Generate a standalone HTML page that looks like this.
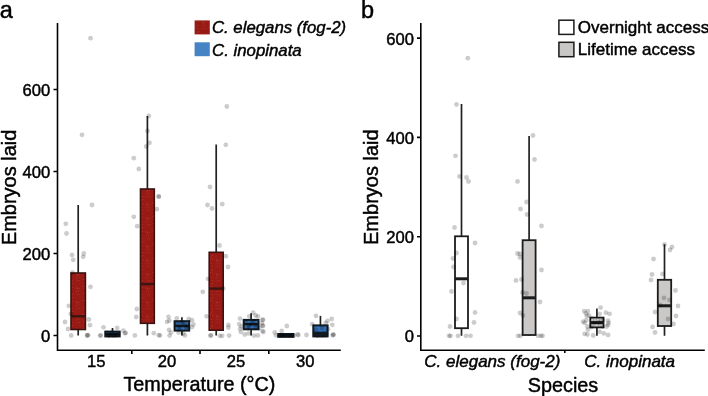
<!DOCTYPE html>
<html lang="en"><head><meta charset="utf-8"><title>Embryos laid</title>
<style>html,body{margin:0;padding:0;background:#fff;}body{width:708px;height:396px;overflow:hidden;}svg{display:block;}text{font-family:"Liberation Sans", Arial, Helvetica, sans-serif;fill:#000;stroke:#000;stroke-width:0.45px;stroke-linejoin:round;}.pl{font-size:23.5px;}.tk{font-size:16.6px;}.ti{font-size:19.8px;}.lg{font-size:16.8px;}.lgb{font-size:17px;}.it{font-style:italic;}.ax{stroke:#000;stroke-width:1.6;fill:none;}.wh{stroke:#222;stroke-width:1.7;fill:none;}.pt{fill:#000;fill-opacity:0.2;}</style></head><body>
<svg width="708" height="396" viewBox="0 0 708 396">
<defs><pattern id="rt" width="14" height="14" patternUnits="userSpaceOnUse"><rect width="14" height="14" fill="#981a14"/><circle cx="6.3" cy="7.8" r="0.4" fill="#d9946a" fill-opacity="0.55"/><circle cx="12.9" cy="6.5" r="0.4" fill="#d9946a" fill-opacity="0.55"/><circle cx="7.1" cy="8.2" r="0.4" fill="#d9946a" fill-opacity="0.55"/><circle cx="2.6" cy="7.2" r="0.4" fill="#d9946a" fill-opacity="0.55"/><circle cx="8.8" cy="11.1" r="0.4" fill="#d9946a" fill-opacity="0.55"/><circle cx="1.3" cy="4.2" r="0.4" fill="#d9946a" fill-opacity="0.55"/><circle cx="1.3" cy="11.3" r="0.4" fill="#d9946a" fill-opacity="0.55"/><circle cx="9.7" cy="0.6" r="0.4" fill="#d9946a" fill-opacity="0.55"/><circle cx="13.8" cy="13.5" r="0.4" fill="#d9946a" fill-opacity="0.55"/><circle cx="9.2" cy="8.6" r="0.4" fill="#d9946a" fill-opacity="0.55"/><circle cx="2.2" cy="0.2" r="0.4" fill="#d9946a" fill-opacity="0.55"/><circle cx="7.4" cy="0.8" r="0.4" fill="#d9946a" fill-opacity="0.55"/><circle cx="2.7" cy="3.4" r="0.4" fill="#d9946a" fill-opacity="0.55"/><circle cx="0.4" cy="6.5" r="0.4" fill="#d9946a" fill-opacity="0.55"/><circle cx="6.2" cy="11.8" r="0.4" fill="#d9946a" fill-opacity="0.55"/><circle cx="7.3" cy="9.0" r="0.4" fill="#d9946a" fill-opacity="0.55"/></pattern></defs>
<rect width="708" height="396" fill="#fff"/>
<text class="pl" x="-0.2" y="18.1">a</text>
<text class="ti" transform="translate(15.8,187.4) rotate(-90)" text-anchor="middle" style="font-size:20px">Embryos laid</text>
<text class="ti" x="199.4" y="391.3" text-anchor="middle">Temperature (°C)</text>
<text class="tk" x="50.3" y="342.2" text-anchor="end">0</text>
<text class="tk" x="50.3" y="260.2" text-anchor="end">200</text>
<text class="tk" x="50.3" y="178.2" text-anchor="end">400</text>
<text class="tk" x="50.3" y="96.2" text-anchor="end">600</text>
<text class="tk" x="96.3" y="367" text-anchor="middle">15</text>
<text class="tk" x="167.0" y="367" text-anchor="middle">20</text>
<text class="tk" x="236.0" y="367" text-anchor="middle">25</text>
<text class="tk" x="305.3" y="367" text-anchor="middle">30</text>
<path class="wh" d="M78.20 205.0V273.0M78.20 329.5V335.5"/>
<rect x="71.0" y="273.0" width="14.4" height="56.5" fill="url(#rt)" stroke="#3a1210" stroke-width="1.6"/>
<path d="M71.0 316.3H85.4" stroke="#3a1512" stroke-width="2.4"/>
<path class="wh" d="M112.50 328.0V331.6M112.50 336.4V336.4"/>
<rect x="105.3" y="331.6" width="14.4" height="4.8" fill="#3674b8" stroke="#121a22" stroke-width="2"/>
<path d="M105.3 334.3H119.7" stroke="#121a22" stroke-width="2.4"/>
<path class="wh" d="M147.40 116.0V189.0M147.40 323.3V335.5"/>
<rect x="140.5" y="189.0" width="13.8" height="134.3" fill="url(#rt)" stroke="#3a1210" stroke-width="1.6"/>
<path d="M140.5 284.1H154.3" stroke="#3a1512" stroke-width="2.4"/>
<path class="wh" d="M181.90 317.3V321.2M181.90 330.6V335.5"/>
<rect x="174.6" y="321.2" width="14.6" height="9.4" fill="#3674b8" stroke="#121a22" stroke-width="2"/>
<path d="M174.6 326.0H189.2" stroke="#121a22" stroke-width="2.4"/>
<path class="wh" d="M216.20 144.5V252.3M216.20 330.2V335.5"/>
<rect x="209.2" y="252.3" width="14.0" height="77.9" fill="url(#rt)" stroke="#3a1210" stroke-width="1.6"/>
<path d="M209.2 288.6H223.2" stroke="#3a1512" stroke-width="2.4"/>
<path class="wh" d="M251.10 313.2V319.9M251.10 329.3V335.5"/>
<rect x="243.7" y="319.9" width="14.8" height="9.4" fill="#3674b8" stroke="#121a22" stroke-width="2"/>
<path d="M243.7 324.2H258.5" stroke="#121a22" stroke-width="2.4"/>
<path class="wh" d="M285.85 334.0V334.0M285.85 336.8V336.8"/>
<rect x="278.3" y="334.0" width="15.1" height="2.8" fill="#111" stroke="#121a22" stroke-width="2"/>
<path d="M278.3 335.4H293.4" stroke="#121a22" stroke-width="2.4"/>
<path class="wh" d="M320.45 315.9V325.4M320.45 336.4V336.4"/>
<rect x="313.3" y="325.4" width="14.3" height="11.0" fill="#3674b8" stroke="#121a22" stroke-width="2"/>
<path d="M313.3 333.0H327.6" stroke="#121a22" stroke-width="2.4"/>
<circle class="pt" cx="90.5" cy="38.2" r="2.4"/>
<circle class="pt" cx="82.0" cy="134.8" r="2.4"/>
<circle class="pt" cx="148.8" cy="116.0" r="2.4"/>
<circle class="pt" cx="147.5" cy="131.0" r="2.4"/>
<circle class="pt" cx="149.5" cy="142.8" r="2.4"/>
<circle class="pt" cx="146.2" cy="146.5" r="2.4"/>
<circle class="pt" cx="133.8" cy="158.2" r="2.4"/>
<circle class="pt" cx="138.8" cy="169.0" r="2.4"/>
<circle class="pt" cx="158.6" cy="196.4" r="2.4"/>
<circle class="pt" cx="226.8" cy="106.5" r="2.4"/>
<circle class="pt" cx="225.8" cy="144.8" r="2.4"/>
<circle class="pt" cx="210.0" cy="187.0" r="2.4"/>
<circle class="pt" cx="92.0" cy="205.0" r="2.4"/>
<circle class="pt" cx="65.8" cy="223.8" r="2.4"/>
<circle class="pt" cx="66.5" cy="233.5" r="2.4"/>
<circle class="pt" cx="72.0" cy="255.0" r="2.4"/>
<circle class="pt" cx="73.2" cy="259.8" r="2.4"/>
<circle class="pt" cx="83.8" cy="253.5" r="2.4"/>
<circle class="pt" cx="83.2" cy="256.8" r="2.4"/>
<circle class="pt" cx="72.5" cy="272.5" r="2.4"/>
<circle class="pt" cx="90.5" cy="286.8" r="2.4"/>
<circle class="pt" cx="133.8" cy="216.8" r="2.4"/>
<circle class="pt" cx="137.2" cy="226.2" r="2.4"/>
<circle class="pt" cx="156.8" cy="209.2" r="2.4"/>
<circle class="pt" cx="158.9" cy="196.7" r="2.4"/>
<circle class="pt" cx="207.5" cy="205.0" r="2.4"/>
<circle class="pt" cx="212.0" cy="208.5" r="2.4"/>
<circle class="pt" cx="222.2" cy="204.2" r="2.4"/>
<circle class="pt" cx="219.5" cy="245.5" r="2.4"/>
<circle class="pt" cx="225.8" cy="256.2" r="2.4"/>
<circle class="pt" cx="228.0" cy="267.0" r="2.4"/>
<circle class="pt" cx="208.0" cy="278.8" r="2.4"/>
<circle class="pt" cx="202.8" cy="291.8" r="2.4"/>
<circle class="pt" cx="223.2" cy="288.5" r="2.4"/>
<circle class="pt" cx="68.8" cy="305.8" r="2.4"/>
<circle class="pt" cx="70.8" cy="314.0" r="2.4"/>
<circle class="pt" cx="65.0" cy="322.0" r="2.4"/>
<circle class="pt" cx="68.0" cy="329.0" r="2.4"/>
<circle class="pt" cx="71.2" cy="335.5" r="2.4"/>
<circle class="pt" cx="87.5" cy="335.3" r="2.4"/>
<circle class="pt" cx="87.0" cy="335.5" r="2.4"/>
<circle class="pt" cx="88.0" cy="335.2" r="2.4"/>
<circle class="pt" cx="88.8" cy="319.5" r="2.4"/>
<circle class="pt" cx="90.0" cy="325.2" r="2.4"/>
<circle class="pt" cx="136.8" cy="309.0" r="2.4"/>
<circle class="pt" cx="136.2" cy="317.0" r="2.4"/>
<circle class="pt" cx="153.8" cy="333.2" r="2.4"/>
<circle class="pt" cx="158.8" cy="335.2" r="2.4"/>
<circle class="pt" cx="103.5" cy="327.3" r="2.4"/>
<circle class="pt" cx="100.7" cy="335.4" r="2.4"/>
<circle class="pt" cx="100.2" cy="335.6" r="2.4"/>
<circle class="pt" cx="117.2" cy="327.9" r="2.4"/>
<circle class="pt" cx="123.4" cy="330.7" r="2.4"/>
<circle class="pt" cx="125.6" cy="332.9" r="2.4"/>
<circle class="pt" cx="125.0" cy="333.3" r="2.4"/>
<circle class="pt" cx="134.9" cy="335.4" r="2.4"/>
<circle class="pt" cx="107.0" cy="333.0" r="2.4"/>
<circle class="pt" cx="109.0" cy="335.0" r="2.4"/>
<circle class="pt" cx="111.0" cy="334.0" r="2.4"/>
<circle class="pt" cx="113.0" cy="335.5" r="2.4"/>
<circle class="pt" cx="115.0" cy="333.5" r="2.4"/>
<circle class="pt" cx="117.0" cy="335.0" r="2.4"/>
<circle class="pt" cx="118.5" cy="334.0" r="2.4"/>
<circle class="pt" cx="110.0" cy="335.6" r="2.4"/>
<circle class="pt" cx="114.0" cy="335.6" r="2.4"/>
<circle class="pt" cx="116.0" cy="335.2" r="2.4"/>
<circle class="pt" cx="108.0" cy="335.6" r="2.4"/>
<circle class="pt" cx="112.0" cy="332.5" r="2.4"/>
<circle class="pt" cx="168.5" cy="316.8" r="2.4"/>
<circle class="pt" cx="169.3" cy="320.7" r="2.4"/>
<circle class="pt" cx="167.0" cy="321.8" r="2.4"/>
<circle class="pt" cx="169.0" cy="329.8" r="2.4"/>
<circle class="pt" cx="170.9" cy="332.6" r="2.4"/>
<circle class="pt" cx="169.6" cy="335.6" r="2.4"/>
<circle class="pt" cx="160.0" cy="335.4" r="2.4"/>
<circle class="pt" cx="176.8" cy="318.3" r="2.4"/>
<circle class="pt" cx="188.7" cy="319.0" r="2.4"/>
<circle class="pt" cx="191.9" cy="320.2" r="2.4"/>
<circle class="pt" cx="193.4" cy="324.5" r="2.4"/>
<circle class="pt" cx="191.9" cy="327.2" r="2.4"/>
<circle class="pt" cx="178.6" cy="332.6" r="2.4"/>
<circle class="pt" cx="184.9" cy="335.4" r="2.4"/>
<circle class="pt" cx="183.3" cy="333.4" r="2.4"/>
<circle class="pt" cx="177.0" cy="324.0" r="2.4"/>
<circle class="pt" cx="180.0" cy="327.0" r="2.4"/>
<circle class="pt" cx="183.0" cy="323.0" r="2.4"/>
<circle class="pt" cx="186.0" cy="328.0" r="2.4"/>
<circle class="pt" cx="179.0" cy="329.0" r="2.4"/>
<circle class="pt" cx="185.0" cy="325.0" r="2.4"/>
<circle class="pt" cx="181.5" cy="322.5" r="2.4"/>
<circle class="pt" cx="187.5" cy="326.5" r="2.4"/>
<circle class="pt" cx="206.6" cy="316.3" r="2.4"/>
<circle class="pt" cx="228.4" cy="324.9" r="2.4"/>
<circle class="pt" cx="228.4" cy="327.7" r="2.4"/>
<circle class="pt" cx="210.5" cy="335.6" r="2.4"/>
<circle class="pt" cx="210.9" cy="335.4" r="2.4"/>
<circle class="pt" cx="219.8" cy="335.8" r="2.4"/>
<circle class="pt" cx="222.2" cy="335.8" r="2.4"/>
<circle class="pt" cx="229.1" cy="335.6" r="2.4"/>
<circle class="pt" cx="253.2" cy="312.7" r="2.4"/>
<circle class="pt" cx="255.6" cy="315.5" r="2.4"/>
<circle class="pt" cx="257.9" cy="316.3" r="2.4"/>
<circle class="pt" cx="249.3" cy="316.3" r="2.4"/>
<circle class="pt" cx="262.5" cy="319.9" r="2.4"/>
<circle class="pt" cx="261.8" cy="323.3" r="2.4"/>
<circle class="pt" cx="262.5" cy="325.6" r="2.4"/>
<circle class="pt" cx="259.4" cy="328.0" r="2.4"/>
<circle class="pt" cx="262.5" cy="331.1" r="2.4"/>
<circle class="pt" cx="240.0" cy="318.6" r="2.4"/>
<circle class="pt" cx="239.2" cy="324.1" r="2.4"/>
<circle class="pt" cx="241.6" cy="326.4" r="2.4"/>
<circle class="pt" cx="240.0" cy="328.7" r="2.4"/>
<circle class="pt" cx="240.8" cy="331.9" r="2.4"/>
<circle class="pt" cx="244.7" cy="334.5" r="2.4"/>
<circle class="pt" cx="248.6" cy="333.4" r="2.4"/>
<circle class="pt" cx="254.0" cy="335.6" r="2.4"/>
<circle class="pt" cx="257.9" cy="335.4" r="2.4"/>
<circle class="pt" cx="246.0" cy="322.0" r="2.4"/>
<circle class="pt" cx="249.0" cy="326.0" r="2.4"/>
<circle class="pt" cx="252.0" cy="323.0" r="2.4"/>
<circle class="pt" cx="255.0" cy="327.0" r="2.4"/>
<circle class="pt" cx="248.0" cy="328.0" r="2.4"/>
<circle class="pt" cx="254.0" cy="321.5" r="2.4"/>
<circle class="pt" cx="256.5" cy="325.0" r="2.4"/>
<circle class="pt" cx="250.5" cy="324.5" r="2.4"/>
<circle class="pt" cx="263.0" cy="319.7" r="2.4"/>
<circle class="pt" cx="263.0" cy="326.0" r="2.4"/>
<circle class="pt" cx="263.4" cy="332.0" r="2.4"/>
<circle class="pt" cx="286.8" cy="326.0" r="2.4"/>
<circle class="pt" cx="281.7" cy="331.0" r="2.4"/>
<circle class="pt" cx="274.7" cy="332.4" r="2.4"/>
<circle class="pt" cx="297.6" cy="334.5" r="2.4"/>
<circle class="pt" cx="298.4" cy="335.0" r="2.4"/>
<circle class="pt" cx="306.5" cy="335.0" r="2.4"/>
<circle class="pt" cx="276.0" cy="335.3" r="2.4"/>
<circle class="pt" cx="279.0" cy="335.6" r="2.4"/>
<circle class="pt" cx="282.0" cy="335.4" r="2.4"/>
<circle class="pt" cx="285.0" cy="335.6" r="2.4"/>
<circle class="pt" cx="288.0" cy="335.5" r="2.4"/>
<circle class="pt" cx="291.0" cy="335.6" r="2.4"/>
<circle class="pt" cx="294.0" cy="335.4" r="2.4"/>
<circle class="pt" cx="283.5" cy="335.6" r="2.4"/>
<circle class="pt" cx="289.5" cy="335.6" r="2.4"/>
<circle class="pt" cx="280.5" cy="335.5" r="2.4"/>
<circle class="pt" cx="292.5" cy="335.5" r="2.4"/>
<circle class="pt" cx="316.0" cy="315.9" r="2.4"/>
<circle class="pt" cx="312.2" cy="324.2" r="2.4"/>
<circle class="pt" cx="331.7" cy="319.0" r="2.4"/>
<circle class="pt" cx="327.5" cy="321.0" r="2.4"/>
<circle class="pt" cx="325.6" cy="322.9" r="2.4"/>
<circle class="pt" cx="332.3" cy="324.8" r="2.4"/>
<circle class="pt" cx="328.0" cy="329.2" r="2.4"/>
<circle class="pt" cx="333.2" cy="334.3" r="2.4"/>
<circle class="pt" cx="333.6" cy="334.8" r="2.4"/>
<circle class="pt" cx="332.6" cy="335.4" r="2.4"/>
<circle class="pt" cx="315.0" cy="334.0" r="2.4"/>
<circle class="pt" cx="317.0" cy="335.5" r="2.4"/>
<circle class="pt" cx="319.0" cy="333.5" r="2.4"/>
<circle class="pt" cx="321.0" cy="335.0" r="2.4"/>
<circle class="pt" cx="323.0" cy="334.5" r="2.4"/>
<circle class="pt" cx="325.0" cy="335.5" r="2.4"/>
<circle class="pt" cx="326.5" cy="334.0" r="2.4"/>
<circle class="pt" cx="318.0" cy="335.6" r="2.4"/>
<circle class="pt" cx="322.0" cy="335.6" r="2.4"/>
<circle class="pt" cx="324.0" cy="333.0" r="2.4"/>
<circle class="pt" cx="316.0" cy="330.0" r="2.4"/>
<circle class="pt" cx="322.0" cy="328.0" r="2.4"/>
<rect x="313.3" y="332" width="14.3" height="4.4" fill="#121a22"/>
<path class="ax" d="M57.5 23V350.3H340.8"/>
<path class="ax" d="M53.5 335.5H57.5M53.5 253.5H57.5M53.5 171.5H57.5M53.5 89.5H57.5M131.8 350.3V354M200.0 350.3V354M268.8 350.3V354"/>
<rect x="194.6" y="20.4" width="15.2" height="14" fill="url(#rt)"/>
<rect x="194.6" y="42.3" width="15.2" height="13.9" fill="#4583c4"/>
<text class="lg it" x="211.9" y="33">C. elegans (fog-2)</text>
<text class="lg it" x="212.1" y="55.5">C. inopinata</text>
<text class="pl" x="361" y="18">b</text>
<text class="ti" transform="translate(377.8,187.2) rotate(-90)" text-anchor="middle" style="font-size:20px">Embryos laid</text>
<text class="ti" x="563" y="392" text-anchor="middle">Species</text>
<text class="tk" x="414" y="342.4" text-anchor="end">0</text>
<text class="tk" x="414" y="243.1" text-anchor="end">200</text>
<text class="tk" x="414" y="143.8" text-anchor="end">400</text>
<text class="tk" x="414" y="44.5" text-anchor="end">600</text>
<text class="tk it" style="font-size:17px" x="424.3" y="367">C. elegans (fog-2)</text>
<text class="tk it" style="font-size:17px" x="584.3" y="367">C. inopinata</text>
<path class="wh" d="M461.50 104.0V236.3M461.50 328.2V335.7"/>
<rect x="455.0" y="236.3" width="13.0" height="91.9" fill="#fff" stroke="#1c1c1c" stroke-width="1.8"/>
<path d="M455.0 278.8H468.0" stroke="#1c1c1c" stroke-width="3"/>
<path class="wh" d="M529.10 136.0V240.2M529.10 335.0V335.7"/>
<rect x="522.6" y="240.2" width="13.0" height="94.8" fill="#cbc9c8" stroke="#1c1c1c" stroke-width="1.8"/>
<path d="M522.6 297.8H535.6" stroke="#1c1c1c" stroke-width="3"/>
<path class="wh" d="M596.90 308.5V317.6M596.90 327.4V335.7"/>
<rect x="590.3" y="317.6" width="13.2" height="9.8" fill="#fff" stroke="#1c1c1c" stroke-width="1.8"/>
<path d="M590.3 322.6H603.5" stroke="#1c1c1c" stroke-width="3"/>
<path class="wh" d="M664.50 244.3V279.8M664.50 326.0V335.7"/>
<rect x="657.8" y="279.8" width="13.4" height="46.2" fill="#cbc9c8" stroke="#1c1c1c" stroke-width="1.8"/>
<path d="M657.8 305.8H671.2" stroke="#1c1c1c" stroke-width="3"/>
<circle class="pt" cx="467.8" cy="58.2" r="2.4"/>
<circle class="pt" cx="456.5" cy="104.5" r="2.4"/>
<circle class="pt" cx="455.5" cy="155.8" r="2.4"/>
<circle class="pt" cx="459.5" cy="176.5" r="2.4"/>
<circle class="pt" cx="466.5" cy="177.5" r="2.4"/>
<circle class="pt" cx="468.5" cy="181.5" r="2.4"/>
<circle class="pt" cx="517.5" cy="181.5" r="2.4"/>
<circle class="pt" cx="533.0" cy="135.5" r="2.4"/>
<circle class="pt" cx="534.5" cy="159.5" r="2.4"/>
<circle class="pt" cx="454.5" cy="227.5" r="2.4"/>
<circle class="pt" cx="475.0" cy="243.0" r="2.4"/>
<circle class="pt" cx="456.5" cy="253.0" r="2.4"/>
<circle class="pt" cx="453.0" cy="258.5" r="2.4"/>
<circle class="pt" cx="453.5" cy="267.0" r="2.4"/>
<circle class="pt" cx="463.5" cy="283.0" r="2.4"/>
<circle class="pt" cx="451.5" cy="291.5" r="2.4"/>
<circle class="pt" cx="475.0" cy="312.5" r="2.4"/>
<circle class="pt" cx="456.5" cy="319.0" r="2.4"/>
<circle class="pt" cx="474.0" cy="322.5" r="2.4"/>
<circle class="pt" cx="450.0" cy="326.5" r="2.4"/>
<circle class="pt" cx="449.0" cy="335.8" r="2.4"/>
<circle class="pt" cx="450.5" cy="335.8" r="2.4"/>
<circle class="pt" cx="458.0" cy="335.8" r="2.4"/>
<circle class="pt" cx="466.0" cy="335.8" r="2.4"/>
<circle class="pt" cx="470.5" cy="335.8" r="2.4"/>
<circle class="pt" cx="541.5" cy="226.0" r="2.4"/>
<circle class="pt" cx="541.5" cy="270.0" r="2.4"/>
<circle class="pt" cx="520.0" cy="254.0" r="2.4"/>
<circle class="pt" cx="526.5" cy="202.0" r="2.4"/>
<circle class="pt" cx="520.5" cy="209.0" r="2.4"/>
<circle class="pt" cx="527.0" cy="214.5" r="2.4"/>
<circle class="pt" cx="517.5" cy="253.5" r="2.4"/>
<circle class="pt" cx="520.0" cy="257.5" r="2.4"/>
<circle class="pt" cx="516.0" cy="280.5" r="2.4"/>
<circle class="pt" cx="521.5" cy="279.5" r="2.4"/>
<circle class="pt" cx="522.5" cy="292.5" r="2.4"/>
<circle class="pt" cx="526.5" cy="293.5" r="2.4"/>
<circle class="pt" cx="540.0" cy="302.0" r="2.4"/>
<circle class="pt" cx="520.0" cy="313.0" r="2.4"/>
<circle class="pt" cx="523.0" cy="315.5" r="2.4"/>
<circle class="pt" cx="518.0" cy="335.8" r="2.4"/>
<circle class="pt" cx="520.5" cy="335.8" r="2.4"/>
<circle class="pt" cx="538.0" cy="335.8" r="2.4"/>
<circle class="pt" cx="541.0" cy="335.8" r="2.4"/>
<circle class="pt" cx="542.5" cy="335.8" r="2.4"/>
<circle class="pt" cx="664.5" cy="244.5" r="2.4"/>
<circle class="pt" cx="672.0" cy="247.0" r="2.4"/>
<circle class="pt" cx="670.0" cy="250.0" r="2.4"/>
<circle class="pt" cx="653.5" cy="259.0" r="2.4"/>
<circle class="pt" cx="652.0" cy="274.5" r="2.4"/>
<circle class="pt" cx="651.0" cy="280.0" r="2.4"/>
<circle class="pt" cx="662.5" cy="274.0" r="2.4"/>
<circle class="pt" cx="675.5" cy="290.5" r="2.4"/>
<circle class="pt" cx="664.0" cy="298.0" r="2.4"/>
<circle class="pt" cx="669.5" cy="300.0" r="2.4"/>
<circle class="pt" cx="678.0" cy="306.0" r="2.4"/>
<circle class="pt" cx="655.0" cy="312.0" r="2.4"/>
<circle class="pt" cx="668.0" cy="319.0" r="2.4"/>
<circle class="pt" cx="673.5" cy="324.0" r="2.4"/>
<circle class="pt" cx="652.5" cy="327.0" r="2.4"/>
<circle class="pt" cx="655.0" cy="332.5" r="2.4"/>
<circle class="pt" cx="660.0" cy="305.0" r="2.4"/>
<circle class="pt" cx="676.0" cy="316.0" r="2.4"/>
<circle class="pt" cx="600.6" cy="307.6" r="2.4"/>
<circle class="pt" cx="584.2" cy="311.1" r="2.4"/>
<circle class="pt" cx="587.9" cy="311.1" r="2.4"/>
<circle class="pt" cx="585.8" cy="313.3" r="2.4"/>
<circle class="pt" cx="605.9" cy="312.7" r="2.4"/>
<circle class="pt" cx="609.6" cy="313.8" r="2.4"/>
<circle class="pt" cx="599.6" cy="313.8" r="2.4"/>
<circle class="pt" cx="586.8" cy="315.9" r="2.4"/>
<circle class="pt" cx="589.0" cy="315.4" r="2.4"/>
<circle class="pt" cx="583.1" cy="321.7" r="2.4"/>
<circle class="pt" cx="584.7" cy="322.8" r="2.4"/>
<circle class="pt" cx="586.3" cy="320.1" r="2.4"/>
<circle class="pt" cx="608.1" cy="320.7" r="2.4"/>
<circle class="pt" cx="608.6" cy="322.8" r="2.4"/>
<circle class="pt" cx="608.1" cy="324.9" r="2.4"/>
<circle class="pt" cx="606.5" cy="326.5" r="2.4"/>
<circle class="pt" cx="587.4" cy="326.5" r="2.4"/>
<circle class="pt" cx="587.9" cy="329.7" r="2.4"/>
<circle class="pt" cx="584.7" cy="333.9" r="2.4"/>
<circle class="pt" cx="587.4" cy="334.5" r="2.4"/>
<circle class="pt" cx="593.2" cy="335.5" r="2.4"/>
<circle class="pt" cx="603.8" cy="333.4" r="2.4"/>
<circle class="pt" cx="608.1" cy="335.0" r="2.4"/>
<circle class="pt" cx="599.6" cy="331.8" r="2.4"/>
<circle class="pt" cx="592.0" cy="319.0" r="2.4"/>
<circle class="pt" cx="595.0" cy="321.0" r="2.4"/>
<circle class="pt" cx="598.0" cy="319.5" r="2.4"/>
<circle class="pt" cx="601.0" cy="321.0" r="2.4"/>
<circle class="pt" cx="593.0" cy="325.0" r="2.4"/>
<circle class="pt" cx="597.0" cy="326.0" r="2.4"/>
<circle class="pt" cx="600.0" cy="324.5" r="2.4"/>
<circle class="pt" cx="602.5" cy="326.5" r="2.4"/>
<circle class="pt" cx="594.5" cy="323.0" r="2.4"/>
<circle class="pt" cx="599.0" cy="322.5" r="2.4"/>
<circle class="pt" cx="591.5" cy="327.0" r="2.4"/>
<circle class="pt" cx="603.0" cy="320.0" r="2.4"/>
<path class="ax" d="M420.8 23V350.3H704.8"/>
<path class="ax" d="M417 336.0H420.8M417 236.7H420.8M417 137.4H420.8M417 38.1H420.8M564.8 350.3V353"/>
<rect x="558.9" y="20.2" width="15" height="14.2" fill="#fff" stroke="#1a1a1a" stroke-width="1.5"/>
<rect x="558.9" y="42.3" width="15" height="14.4" fill="#c9c7c6" stroke="#1a1a1a" stroke-width="1.5"/>
<text class="lgb" x="577.8" y="33.3">Overnight access</text>
<text class="lgb" x="577.8" y="55.2">Lifetime access</text>
</svg></body></html>
